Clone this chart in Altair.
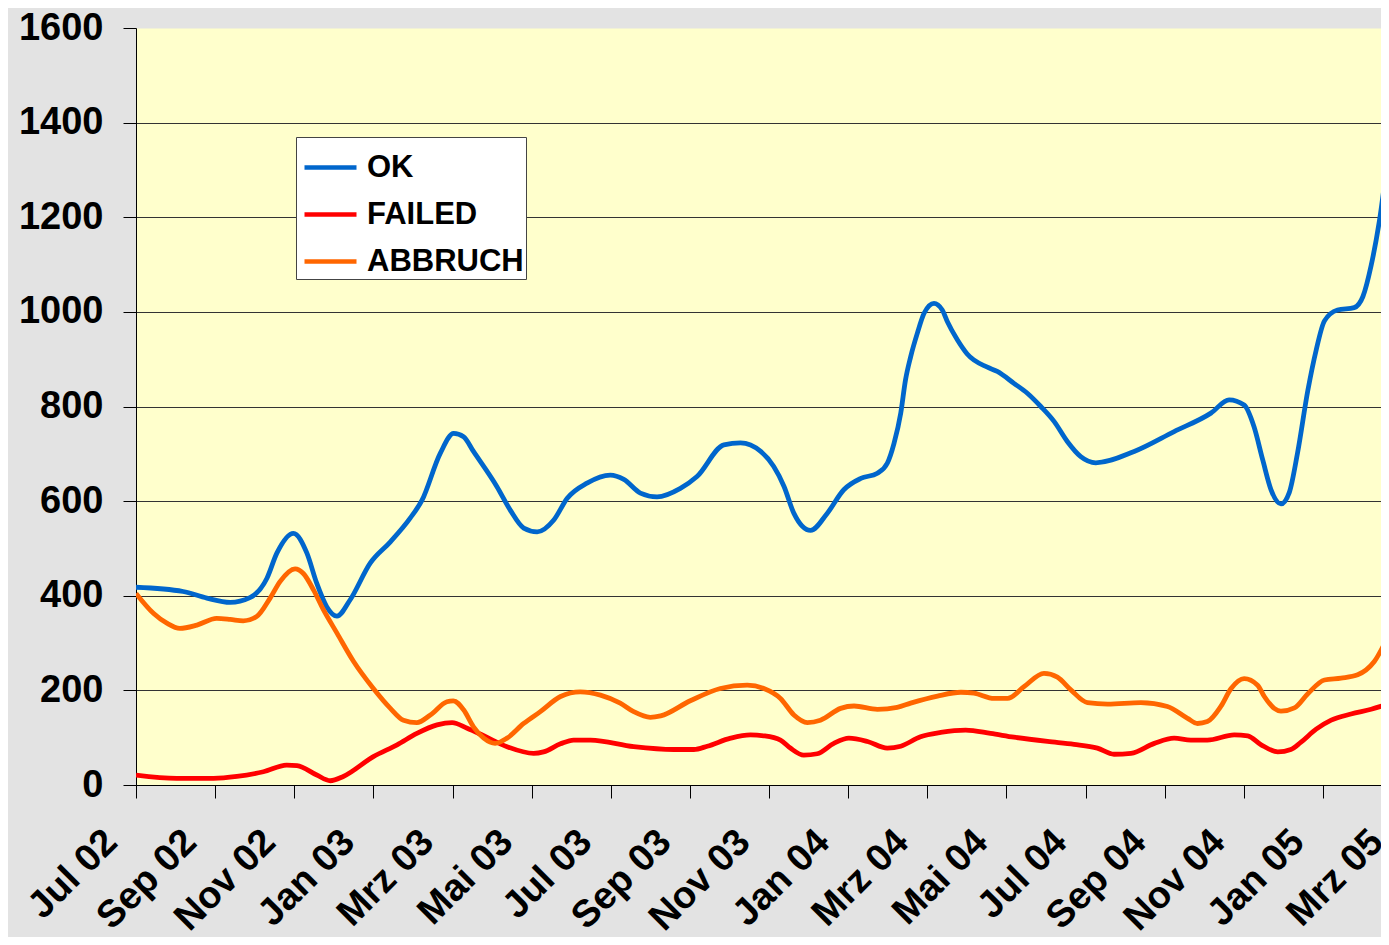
import altair as alt
import pandas as pd

tick_labels = ["Jul 02", "Sep 02", "Nov 02", "Jan 03", "Mrz 03", "Mai 03", "Jul 03",
               "Sep 03", "Nov 03", "Jan 04", "Mrz 04", "Mai 04", "Jul 04", "Sep 04",
               "Nov 04", "Jan 05", "Mrz 05"]
series_names = ["OK", "FAILED", "ABBRUCH"]
series_colors = ["#0066CC", "#FF0000", "#FF6600"]

# month index: 0 = Jul 02, 2 = Sep 02, ...
ok_month = [0, 1.19, 1.79, 2.38, 2.88, 3.31, 3.56, 3.98, 4.32, 4.57, 4.82, 5.08, 5.41,
            5.92, 6.43, 6.93, 7.23, 7.69, 8.03, 8.28, 8.53, 9.12, 9.46, 9.80, 10.14,
            10.56, 10.90, 11.40, 11.99, 12.33, 12.75, 13.17, 13.76, 14.18, 14.86, 15.28,
            15.79, 16.12, 16.38, 16.63, 17.05, 17.47, 17.89, 18.32, 18.74, 18.99, 19.16,
            19.33, 19.45, 19.58, 19.75, 19.92, 20.17, 20.38, 20.51, 20.76, 21.01, 21.52,
            21.77, 22.19, 22.53, 22.87, 23.21, 23.54, 23.88, 24.26, 25.23, 26.24, 27.17,
            27.63, 28.01, 28.26, 28.48, 28.69, 28.94, 29.15, 29.36, 29.62, 29.83, 30.04,
            30.37, 30.79, 31.01, 31.22, 31.43, 31.70, 31.80]
ok_value = [418, 409, 395, 386, 396, 437, 490, 532, 490, 426, 377, 357, 391,
            469, 514, 564, 602, 701, 743, 736, 705, 631, 581, 543, 535,
            560, 606, 638, 655, 646, 617, 609, 627, 652, 719, 723,
            705, 673, 631, 574, 538, 574, 624, 648, 659, 680, 722,
            786, 856, 905, 955, 997, 1018, 1004, 979, 941, 911, 883,
            874, 849, 828, 800, 768, 726, 694, 681, 705, 747, 786,
            814, 803, 757, 687, 624, 594, 618, 702, 834, 919, 981,
            1004, 1009, 1032, 1098, 1193, 1362, 1420]

failed_month = [0, 1.03, 1.96, 2.55, 3.22, 3.81, 4.07, 4.57, 4.91, 5.24, 6.00, 6.60,
                7.10, 7.61, 7.99, 8.37, 8.79, 9.38, 10.05, 10.30, 10.73, 11.06, 11.49,
                12.58, 13.59, 14.10, 14.44, 15.03, 15.53, 15.87, 16.29, 16.54, 16.88,
                17.22, 17.64, 18.02, 18.49, 18.99, 19.33, 19.83, 20.34, 20.97, 21.60,
                22.19, 23.04, 23.71, 24.30, 24.72, 25.15, 25.74, 26.24, 26.66, 27.08,
                27.76, 28.10, 28.44, 28.86, 29.19, 29.44, 29.83, 30.21, 30.71, 31.22,
                31.70, 31.80]
failed_value = [21, 14, 14, 18, 28, 42, 41, 21, 9, 18, 60, 85,
                109, 127, 132, 120, 104, 81, 67, 70, 87, 95, 95,
                81, 75, 75, 82, 99, 106, 104, 95, 78, 63,
                66, 88, 99, 92, 78, 82, 102, 111, 116, 109,
                101, 92, 86, 78, 65, 67, 88, 99, 95, 95,
                106, 104, 85, 70, 75, 90, 118, 137, 150, 160,
                172, 174]

abbruch_month = [0, 0.44, 0.78, 1.11, 1.54, 2.04, 2.38, 2.71, 3.05, 3.39, 3.64, 4.02,
                 4.23, 4.49, 4.74, 5.08, 5.50, 6.00, 6.43, 6.76, 7.10, 7.44, 7.86, 8.02,
                 8.28, 8.53, 8.79, 9.08, 9.38, 9.80, 10.22, 10.73, 11.23, 11.74, 12.24,
                 12.58, 13.00, 13.26, 14.01, 14.77, 15.45, 15.87, 16.29, 16.63, 16.97,
                 17.30, 17.81, 18.15, 18.74, 19.24, 19.58, 20.26, 20.85, 21.18, 21.69,
                 22.03, 22.45, 22.95, 23.29, 23.63, 24.05, 24.56, 25.40, 26.07, 26.58,
                 26.83, 27.08, 27.42, 27.68, 28.01, 28.35, 28.52, 28.77, 28.94, 29.28,
                 29.62, 30.04, 30.46, 30.88, 31.30, 31.70, 31.80]
abbruch_value = [405, 363, 342, 331, 338, 352, 350, 347, 356, 395, 430, 457,
                 447, 412, 370, 321, 261, 204, 162, 137, 132, 148, 176, 178,
                 159, 123, 99, 88, 99, 130, 155, 187, 197, 190, 173,
                 155, 143, 146, 178, 204, 211, 204, 183, 148, 132,
                 137, 162, 167, 160, 164, 173, 188, 196, 194, 183,
                 183, 208, 236, 228, 201, 174, 171, 174, 166, 141,
                 130, 134, 166, 204, 225, 211, 187, 162, 156, 163,
                 193, 222, 226, 233, 261, 321, 335]

rows = []
for name, ms, vs in [("OK", ok_month, ok_value),
                     ("FAILED", failed_month, failed_value),
                     ("ABBRUCH", abbruch_month, abbruch_value)]:
    for m, v in zip(ms, vs):
        rows.append({"serie": name, "monat": m, "anzahl": v})
df = pd.DataFrame(rows)

label_expr = "[" + ",".join("'%s'" % s for s in tick_labels) + "][round(datum.value / 2)]"
FONT = "Liberation Sans"

chart = alt.Chart(df).mark_line(strokeWidth=4.8, interpolate="monotone", clip=True).encode(
    x=alt.X("monat:Q",
            scale=alt.Scale(domain=[0, 32], range=[0, 1266], nice=False, zero=False),
            axis=alt.Axis(values=list(range(0, 33, 2)), labelExpr=label_expr, title=None,
                          grid=False, tickSize=13, tickColor="black", tickWidth=1,
                          domainColor="black", domainWidth=1,
                          labelAngle=315, labelAlign="right", labelBaseline="middle",
                          labelOffset=-25, labelPadding=38, labelFontSize=38,
                          labelFontWeight="bold", labelFont=FONT, labelColor="black",
                          labelOverlap=False, labelFlush=False, labelBound=False)),
    y=alt.Y("anzahl:Q",
            scale=alt.Scale(domain=[0, 1600], nice=False),
            axis=alt.Axis(values=list(range(0, 1601, 200)), format="d", title=None,
                          grid=True,
                          gridColor={"condition": {"test": "datum.value >= 1600", "value": "transparent"},
                                     "value": "#333333"},
                          gridWidth=1, tickSize=13, tickColor="black", domainColor="black",
                          labelPadding=20, labelFontSize=38, labelFontWeight="bold",
                          labelFont=FONT, labelColor="black", labelOverlap=False,
                          labelFlush=False)),
    color=alt.Color("serie:N",
                    scale=alt.Scale(domain=series_names, range=series_colors),
                    legend=alt.Legend(title=None, orient="none", legendX=160, legendY=109,
                                      fillColor="white", strokeColor="#444444", padding=2,
                                      symbolType="stroke", symbolSize=2704,
                                      symbolStrokeWidth=4.5, symbolOpacity=1,
                                      symbolOffset=4,
                                      labelFontSize=31, labelFontWeight="bold",
                                      labelFont=FONT, labelColor="black", labelOffset=8,
                                      rowPadding=3)),
    order="monat:Q",
).properties(
    width=1245,
    height=757,
    background="#E3E3E3",
    padding={"left": 128, "top": 20, "right": 0, "bottom": 152},
    autosize=alt.AutoSizeParams(type="none"),
).configure_view(fill="#FFFFCC", stroke="transparent")

chart.save("out.html", embed_options={"renderer": "svg", "actions": False})
